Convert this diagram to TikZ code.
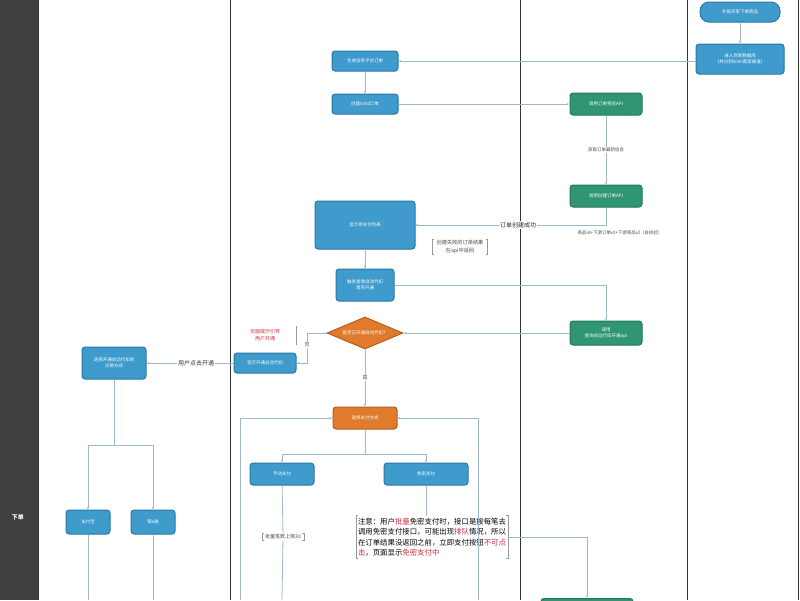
\documentclass[tikz,border=0pt]{standalone}
\usepackage{fontspec}
\setmainfont{Noto Sans CJK SC}
\usetikzlibrary{shapes.geometric,arrows.meta}
\definecolor{bl}{HTML}{3E9BCB}
\definecolor{bld}{HTML}{2A78A6}
\definecolor{gr}{HTML}{2F9575}
\definecolor{grd}{HTML}{23775C}
\definecolor{og}{HTML}{E07B2E}
\definecolor{ogd}{HTML}{B85E1C}
\definecolor{ln}{HTML}{9DB8CC}
\definecolor{rd}{HTML}{D62A3E}
\begin{document}
\begin{tikzpicture}[x=1pt,y=-1pt,
  every node/.style={font=\fontsize{4.5}{6}\selectfont},
  box/.style={draw=bld,fill=bl,text=white,rounded corners=3pt,line width=1pt,align=center,minimum height=20pt,inner sep=1pt},
  gbox/.style={box,draw=grd,fill=gr},
  obox/.style={box,draw=ogd,fill=og},
  con/.style={draw=ln,line width=0.8pt,-{Stealth[length=3pt]}},
  lbl/.style={fill=white,text=black!70,inner sep=1pt,align=center},
  br/.style={draw=black!40,line width=0.5pt}]
\useasboundingbox (0,0) rectangle (800,600);
\fill[white] (0,0) rectangle (800,600);
\fill[black!75] (0,0) rectangle (38,600);
\node[text=white,font=\fontsize{6}{7}\selectfont\bfseries] (lane) at (18,517) {下单};
\foreach \x in {38,230,520,687,798} \draw[black!80,line width=0.8pt] (\x,0) -- (\x,600);
% nodes
\node[box,rounded corners=9pt,minimum width=80pt] (n1) at (740,12) {外部买家下单商品};
\node[box,minimum width=88pt,minimum height=30pt] (n2) at (740,59) {进入商家数据库\\（并分到5000商家渠道）};
\node[box,minimum width=66pt] (n3) at (365,61) {生成自有平台订单};
\node[box,minimum width=66pt] (n4) at (365,104) {创建5000订单};
\node[gbox,minimum width=72pt,minimum height=22pt] (n5) at (606,104) {调用订单预览API};
\node[lbl] (l1) at (606,150) {获取订单最新信息};
\node[gbox,minimum width=72pt,minimum height=22pt] (n6) at (606,196) {调用创建订单API};
\node[box,minimum width=100pt,minimum height=48pt] (n7) at (365,225) {显示待支付列表};
\node[lbl,font=\fontsize{6}{7}\selectfont,text=black!85] (l2) at (518,225) {订单创建成功};
\node[lbl] (l3) at (620,233) {商品id+下游订单id+下游商品id（自校验）};
\node[lbl,inner xsep=4pt,font=\fontsize{5.2}{7.5}\selectfont] (l4) at (460,247) {创建失败的订单结果\\在api中返回};
\draw[br] ([xshift=2pt]l4.north west) -| (l4.south west) -- ++(2pt,0);
\draw[br] ([xshift=-2pt]l4.north east) -| (l4.south east) -- ++(-2pt,0);
\node[box,minimum width=58pt,minimum height=32pt] (n8) at (365,285) {触发查询自动代扣\\是否开通};
\node[gbox,minimum width=72pt,minimum height=24pt] (n9) at (606,333) {调用\\查询自动代扣开通api};
\node[diamond,aspect=2.6,draw=ogd,fill=og,text=white,line width=1pt,inner sep=0pt,minimum width=76pt,minimum height=32pt] (n10) at (365,333) {是否已开通自动代扣？};
\node[lbl,text=rd,font=\fontsize{5}{7}\selectfont] (l5) at (265,335) {页面提示引导\\用户开通};
\draw[br] (296,326) -- (296,345);
\node[box,minimum width=62pt] (n11) at (265,363) {显示开通自动代扣};
\node[lbl,font=\fontsize{5}{6}\selectfont] (l6) at (307,345) {否};
\node[lbl,font=\fontsize{6}{7}\selectfont,text=black!80] (l7) at (196,363) {用户点击开通};
\node[box,minimum width=64pt,minimum height=32pt] (n12) at (114,363) {选择开通自动代扣的\\交易方式};
\node[lbl,font=\fontsize{5}{6}\selectfont] (l8) at (365,378) {是};
\node[obox,minimum width=64pt,minimum height=22pt] (n13) at (365,418) {选择支付方式};
\node[box,minimum width=64pt,minimum height=22pt] (n14) at (282,474) {手动支付};
\node[box,minimum width=84pt,minimum height=22pt] (n15) at (426,474) {免密支付};
\node[lbl,inner xsep=3pt,font=\fontsize{5}{6}\selectfont] (l9) at (283,537) {批量笔数上限30};
\draw[br] ([xshift=2pt]l9.north west) -| (l9.south west) -- ++(2pt,0);
\draw[br] ([xshift=-2pt]l9.north east) -| (l9.south east) -- ++(-2pt,0);
\node[fill=white,text=black,inner sep=2pt,align=left,font=\fontsize{7.4}{10.5}\selectfont] (l10) at (432,537) {注意：用户\textcolor{rd}{批量}免密支付时，接口是按每笔去\\调用免密支付接口，可能出现\textcolor{rd}{排队}情况，所以\\在订单结果没返回之前，立即支付按钮\textcolor{rd}{不可点}\\\textcolor{rd}{击}，页面显示\textcolor{rd}{免密支付中}};
\draw[br] ([xshift=2pt]l10.north west) -| (l10.south west) -- ++(2pt,0);
\draw[br] ([xshift=-2pt]l10.north east) -| (l10.south east) -- ++(-2pt,0);
\node[gbox,minimum width=92pt,minimum height=10pt,anchor=north] (n18) at (587,598) {};
\node[box,minimum width=44pt,minimum height=24pt] (n16) at (88,522) {支付宝};
\node[box,minimum width=44pt,minimum height=24pt] (n17) at (153,522) {银e通};
\coordinate (b1) at (240,600);
\coordinate (b2) at (478,600);
% connectors
\draw[con] (n1) -- (n2);
\draw[con] (n2.west |- n3) -- (n3);
\draw[con] (n3) -- (n4);
\draw[con] (n4) -- (n5);
\draw[con] (n5) -- (l1) -- (n6);
\draw[con] (n6.south) |- (l2.east) (l2.west) -- (n7.east);
\draw[con] (n7) -- (n8);
\draw[con] (n8.east) -| (n9.north);
\draw[con] (n9) -- (n10);
\draw[con] (n10.west) -| (l6.north) (l6.south) |- (n11.east);
\draw[con] (n11) -- (l7) -- (n12);
\draw[con] (n10) -- (l8) -- (n13);
\draw[con] (n13.south) -- ++(0,25) -| (n14.north);
\draw[con] (n13.south) -- ++(0,25) -| (n15.north);
\draw[draw=ln,line width=0.8pt] (n15) -- (l10.north -| n15);
\draw[draw=ln,line width=0.8pt] (n14) -- (l9) -- (n14.south |- b1);
\draw[con] (l10.east) -| (n18.north);
\draw[con] (b1) |- (n13.west);
\draw[con] (b2) |- (n13.east);
\draw[con] (n12.south) -- (114,445) -| (n16.north);
\draw[con] (114,445) -| (n17.north);
\draw[draw=ln,line width=0.8pt] (n16) -- (88,600);
\draw[draw=ln,line width=0.8pt] (n17) -- (153,600);
\end{tikzpicture}
\end{document}
